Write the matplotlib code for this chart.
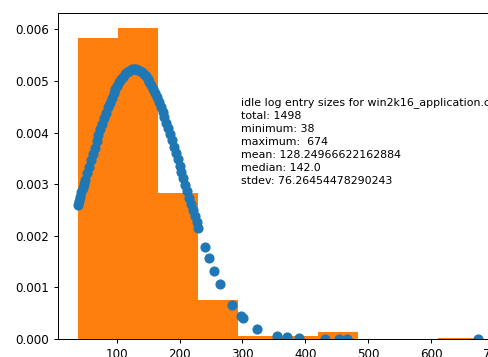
import matplotlib
matplotlib.use("Agg")
import matplotlib.pyplot as plt

# histogram (density) of idle log entry sizes, 10 bins from 38 to 674
bin_edges = [38.0, 101.6, 165.2, 228.8, 292.4, 356.0, 419.6, 483.2, 546.8, 610.4, 674.0]
bin_density = [0.005836, 0.006025, 0.002834, 0.000756, 0.000063, 0.000063,
               0.000136, 0.0, 0.0, 0.0000105]

# normal-curve points plotted at the sample values
pts_x = [38, 40, 42, 44, 46, 48, 50, 53, 56, 59, 62, 65, 68, 71, 74, 77, 80, 83,
         86, 89, 92, 95, 98, 101, 104, 107, 110, 113, 116, 119, 122, 125, 128,
         131, 134, 137, 140, 143, 146, 149, 152, 155, 158, 161, 164, 167, 170,
         173, 176, 179, 182, 185, 188, 191, 194, 197, 200, 203, 206, 209, 212,
         215, 218, 221, 224, 227, 230,
         240, 247, 255, 265, 284, 297, 301, 323, 355, 371, 390, 431, 453, 466, 674]
pts_y = [0.002597, 0.002678, 0.002760, 0.002842, 0.002924, 0.003007, 0.003090,
         0.003215, 0.003340, 0.003464, 0.003587, 0.003709, 0.003829, 0.003946,
         0.004062, 0.004174, 0.004282, 0.004387, 0.004487, 0.004582, 0.004672,
         0.004757, 0.004835, 0.004908, 0.004973, 0.005032, 0.005084, 0.005127,
         0.005164, 0.005193, 0.005213, 0.005226, 0.005231, 0.005228, 0.005216,
         0.005197, 0.005169, 0.005134, 0.005092, 0.005041, 0.004984, 0.004919,
         0.004848, 0.004770, 0.004687, 0.004598, 0.004503, 0.004404, 0.004300,
         0.004192, 0.004080, 0.003966, 0.003849, 0.003729, 0.003607, 0.003484,
         0.003361, 0.003236, 0.003111, 0.002987, 0.002862, 0.002740, 0.002618,
         0.002497, 0.002378, 0.002262, 0.002148,
         0.001774, 0.001566, 0.001309, 0.001056, 0.000653, 0.000451, 0.000399,
         0.000203, 0.0000622, 0.0000327, 0.0000146, 0.0000014, 0.0000003,
         0.0, 0.0]

stats_text = ("idle log entry sizes for win2k16_application.csv\n"
              "total: 1498\n"
              "minimum: 38\n"
              "maximum:  674\n"
              "mean: 128.24966622162884\n"
              "median: 142.0\n"
              "stdev: 76.26454478290243")

plt.rcParams["font.family"] = "DejaVu Sans"
fig = plt.figure(figsize=(4.89, 3.57), dpi=100)
# axes runs past the right edge of the picture, as in the reference
ax = fig.add_axes([57.7 / 489, 18 / 357, 440 / 489, 326.5 / 357])

ax.plot(pts_x, pts_y, 'o', color='#1f77b4', ms=6.3, zorder=2)
ax.hist(bin_edges[:-1], bins=bin_edges, weights=bin_density, color='#ff7f0e', zorder=1)

ax.text(297.6, 0.00469, stats_text, fontsize=7.9, va='top', ha='left',
        linespacing=1.37)

ax.set_ylim(0, 0.006326)
ax.set_xticks([100, 200, 300, 400, 500, 600, 700])
ax.set_yticks([0.000, 0.001, 0.002, 0.003, 0.004, 0.005, 0.006])
ax.tick_params(labelsize=8.6, length=3.1, width=0.71, pad=3.1)
for sp in ax.spines.values():
    sp.set_linewidth(0.71)

fig.savefig("out.png", dpi=100)
